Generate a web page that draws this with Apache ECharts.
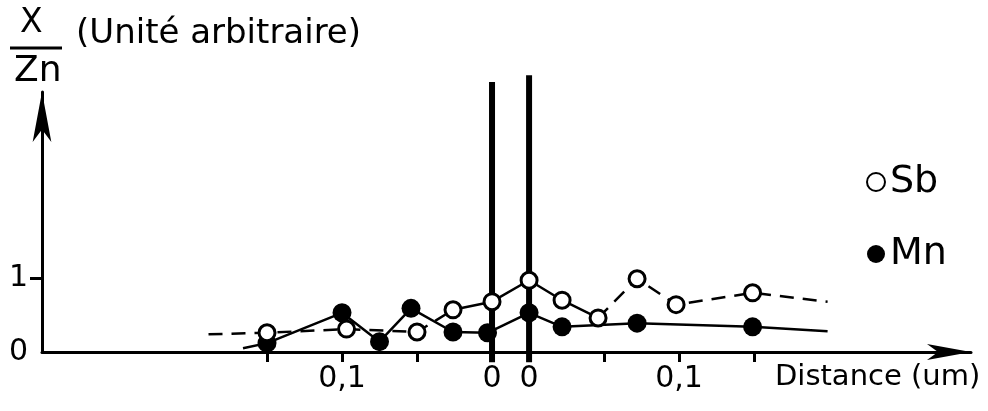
<!DOCTYPE html>
<html>
<head>
<meta charset="utf-8">
<script src="https://cdn.jsdelivr.net/npm/echarts@6/dist/echarts.min.js"></script>
<style>
html,body{margin:0;padding:0;background:#fff;}
#chart{width:988px;height:411px;}
</style>
</head>
<body>
<div id="chart"></div>
<script>
// Gap (in drawing units) between the two interface lines on the distance axis
const interfaceGap = 0.0247;

// Sb (open circles): distance from interface (um) and X/Zn value
const sbLeftDist = [0.15, 0.097, 0.05, 0.026, 0.0];
const sbLeftVal = [0.26, 0.31, 0.27, 0.57, 0.68];
const sbRightDist = [0.0, 0.022, 0.046, 0.072, 0.098, 0.149];
const sbRightVal = [0.97, 0.70, 0.46, 0.99, 0.64, 0.80];
const sbTailLeft = [0.189, 0.24];
const sbTailRight = [0.199, 0.68];

// Mn (filled circles)
const mnLeftDist = [0.15, 0.10, 0.075, 0.054, 0.026, 0.003];
const mnLeftVal = [0.12, 0.53, 0.14, 0.59, 0.27, 0.26];
const mnRightDist = [0.0, 0.022, 0.072, 0.149];
const mnRightVal = [0.53, 0.34, 0.39, 0.34];
const mnTailLeft = [0.166, 0.05];
const mnTailRight = [0.199, 0.28];

// Axis ticks (distance from each interface) and labels
const leftTickDist = [0.15, 0.10, 0.05, 0.0];
const rightTickDist = [0.0, 0.05, 0.10, 0.15];
const leftLabelDist = [0.10, 0.0];
const leftLabels = ['0,1', '0'];
const rightLabelDist = [0.0, 0.10];
const rightLabels = ['0', '0,1'];
const yTicks = [1];
const yLabels = [0, 1];

// Interface (grain boundary) lines
const boundaryTop = [3.65, 3.74];
const boundaryBottom = -0.14;

const L = d => -d;
const R = d => interfaceGap + d;
const pairs = (dist, val, f) => dist.map((d, i) => [f(d), val[i]]);

const sbLeft = pairs(sbLeftDist, sbLeftVal, L);
const sbRight = pairs(sbRightDist, sbRightVal, R);
const sbAll = sbLeft.concat(sbRight);
const sbDashA = [[L(sbTailLeft[0]), sbTailLeft[1]]].concat(sbLeft.slice(0, 4));
const sbSolid = sbLeft.slice(3).concat(sbRight.slice(0, 3));
const sbDashB = sbRight.slice(2).concat([[R(sbTailRight[0]), sbTailRight[1]]]);

const mnAll = pairs(mnLeftDist, mnLeftVal, L).concat(pairs(mnRightDist, mnRightVal, R));
const mnLine = [[L(mnTailLeft[0]), mnTailLeft[1]]].concat(mnAll, [[R(mnTailRight[0]), mnTailRight[1]]]);

const tickVals = leftTickDist.map(L).concat(rightTickDist.map(R));
const labelVals = leftLabelDist.map(L).concat(rightLabelDist.map(R));
const labelTexts = leftLabels.concat(rightLabels);
const labelFor = v => {
  let best = 0, bd = Infinity;
  labelVals.forEach((lv, i) => { const dd = Math.abs(lv - v); if (dd < bd) { bd = dd; best = i; } });
  return labelTexts[best];
};

const FONT = '"DejaVu Sans", sans-serif';
const lineW = 2.5;

const chart = echarts.init(document.getElementById('chart'), null, {renderer: 'canvas'});
chart.setOption({
  backgroundColor: '#fff',
  animation: false,
  textStyle: {fontFamily: FONT, color: '#000'},
  grid: {left: 42, right: 17, top: 92, bottom: 59},
  legend: {
    orient: 'vertical', left: 861, top: 158, itemWidth: 18, itemHeight: 18, itemGap: 34,
    data: ['Sb', 'Mn'],
    textStyle: {fontSize: 38, color: '#000', fontFamily: FONT}
  },
  xAxis: {
    type: 'value', min: -0.3, max: 0.3193,
    splitLine: {show: false},
    axisLine: {onZero: false, lineStyle: {color: '#000', width: 3}, symbol: ['none', 'arrow'], symbolSize: [12, 44]},
    axisTick: {customValues: tickVals, length: 10, lineStyle: {color: '#000', width: 3}},
    axisLabel: {customValues: labelVals, formatter: v => labelFor(v), fontSize: 30, margin: 12, color: '#000', fontFamily: FONT}
  },
  yAxis: {
    type: 'value', min: 0, max: 3.514,
    splitLine: {show: false},
    axisLine: {show: true, onZero: false, lineStyle: {color: '#000', width: 3}, symbol: ['none', 'arrow'], symbolSize: [14, 50]},
    axisTick: {show: true, customValues: yTicks, length: 12, lineStyle: {color: '#000', width: 3}},
    axisLabel: {customValues: yLabels, fontSize: 30, margin: 14, color: '#000', fontFamily: FONT}
  },
  graphic: [
    {type: 'text', left: 20, top: 7, style: {text: 'X', fontSize: 33, fill: '#000', fontFamily: FONT}},
    {type: 'line', shape: {x1: 10, y1: 48, x2: 62, y2: 48}, style: {stroke: '#000', lineWidth: 3}},
    {type: 'text', left: 14, top: 54, style: {text: 'Zn', fontSize: 36, fill: '#000', fontFamily: FONT}},
    {type: 'text', left: 76, top: 17, style: {text: '(Unité arbitraire)', fontSize: 34, fill: '#000', fontFamily: FONT}},
    {type: 'text', left: 775, top: 363, style: {text: 'Distance (um)', fontSize: 29, fill: '#000', fontFamily: FONT}}
  ],
  series: [
    {type: 'line', name: 'boundaryL', silent: true, clip: false, symbol: 'none', z: 1,
      data: [[0, boundaryBottom], [0, boundaryTop[0]]], lineStyle: {color: '#000', width: 6}},
    {type: 'line', name: 'boundaryR', silent: true, clip: false, symbol: 'none', z: 1,
      data: [[interfaceGap, boundaryBottom], [interfaceGap, boundaryTop[1]]], lineStyle: {color: '#000', width: 6}},
    {type: 'line', name: 'Sb-a', symbol: 'none', z: 2, data: sbDashA, lineStyle: {color: '#000', width: lineW, type: [14, 9]}},
    {type: 'line', name: 'Sb-s', symbol: 'none', z: 2, data: sbSolid, lineStyle: {color: '#000', width: lineW}},
    {type: 'line', name: 'Sb-b', symbol: 'none', z: 2, data: sbDashB, lineStyle: {color: '#000', width: lineW, type: [14, 9]}},
    {type: 'line', name: 'Mn-l', symbol: 'none', z: 2, data: mnLine, lineStyle: {color: '#000', width: lineW}},
    {type: 'scatter', name: 'Mn', z: 4, symbol: 'circle', symbolSize: 19, data: mnAll,
      itemStyle: {color: '#000', opacity: 1}},
    {type: 'scatter', name: 'Sb', z: 5, symbol: 'circle', symbolSize: 16, data: sbAll,
      itemStyle: {color: '#fff', borderColor: '#000', borderWidth: 3, opacity: 1}}
  ]
});
</script>
</body>
</html>
